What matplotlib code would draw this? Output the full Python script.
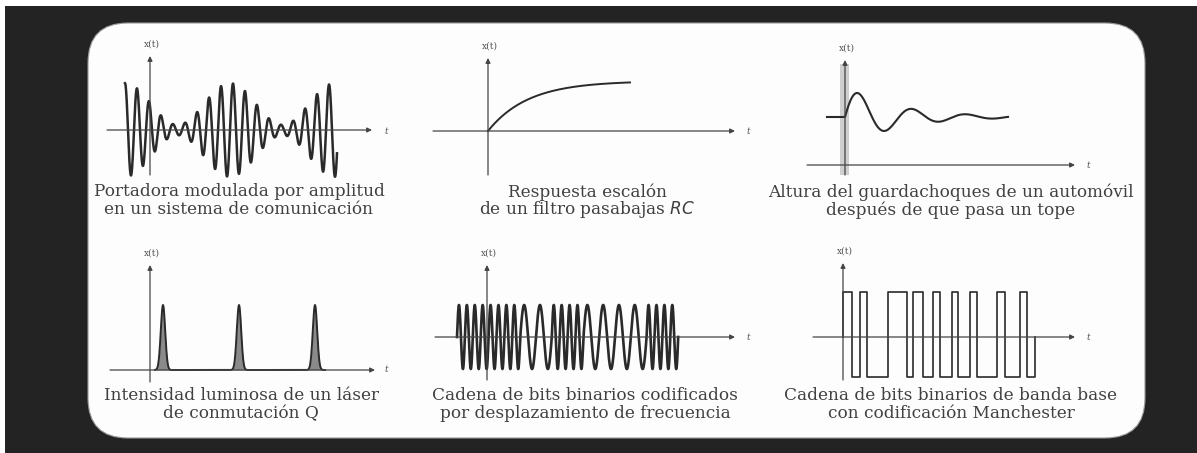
import numpy as np
import matplotlib
matplotlib.use("Agg")
import matplotlib.pyplot as plt
from matplotlib.patches import FancyBboxPatch, Rectangle

W, H = 1197, 453

# ---------------- data ----------------
# 1: amplitude-modulated carrier
am_t = (-25, 187)
am_carrier_period = 12.0
am_env_period = 105.0
am_mod_index = 0.8
am_scale = 26.0
# 2: RC low-pass step response
rc_final = 50.0
rc_tau = 40.0
rc_t_end = 142.0
# 3: car bumper height after a bump
bump_level = 48.0
bump_amp = 31.0
bump_tau = 50.0
bump_period = 54.0
bump_t = (-18, 163)
# 4: Q-switched laser pulses
laser_times = [13, 89, 165]
laser_height = 65.0
laser_sigma = 2.2
# 5: FSK binary stream
fsk_bits = [1, 1, 0, 1, 0, 0, 1]
fsk_t0 = -30.0
fsk_bit_dur = 31.6
fsk_cycles = {1: 4, 0: 2}
fsk_amp = 32.0
# 6: Manchester baseband stream (transition times and levels)
man_edges = [0, 9, 17, 24, 45, 64, 70, 80, 90, 97, 109, 115, 127, 134, 154, 162, 177, 184, 192]
man_levels = [1, -1, 1, -1, 1, -1, 1, -1, 1, -1, 1, -1, 1, -1, 1, -1, 1, -1]
man_high, man_low = 45.0, 40.0

captions = [
    ("Portadora modulada por amplitud", "en un sistema de comunicación"),
    ("Respuesta escalón", "de un filtro pasabajas $RC$"),
    ("Altura del guardachoques de un automóvil", "después de que pasa un tope"),
    ("Intensidad luminosa de un láser", "de conmutación Q"),
    ("Cadena de bits binarios codificados", "por desplazamiento de frecuencia"),
    ("Cadena de bits binarios de banda base", "con codificación Manchester"),
]
ylabels = ["x(t)", "x(t)", "x(t)", "x(t)", "x(t)", "x(t)"]

# ---------------- layout ----------------
DARK = "#232323"
INK = "#2a2a2a"
AXC = "#444444"
fig = plt.figure(figsize=(W / 100, H / 100), dpi=100)
fig.patch.set_facecolor(DARK)

bg = fig.add_axes([0, 0, 1, 1])
bg.set_xlim(0, W)
bg.set_ylim(H, 0)
bg.axis("off")
bg.add_patch(Rectangle((0, 0), W, 6, color="white", lw=0))
bg.add_patch(Rectangle((0, 0), 5, H, color="white", lw=0))
bg.add_patch(FancyBboxPatch((88, 23), 1057, 415,
                            boxstyle="round,pad=0,rounding_size=40",
                            fc="#fdfdfd", ec="#9a9a9a", lw=0.8))

# panel definitions: origin pixel, box pixel, x-axis extent, y-axis extent
panels = [
    dict(o=(150, 130), box=(95, 35, 400, 185), xa=(107, 372), ya=(175, 56), cap=239, cy=(192, 209), tl=(386, 131)),
    dict(o=(488, 131), box=(425, 35, 760, 185), xa=(433, 735), ya=(175, 58), cap=587, cy=(192, 210), tl=(748, 131)),
    dict(o=(845, 165), box=(795, 35, 1100, 185), xa=(807, 1075), ya=(175, 60), cap=951, cy=(192, 210), tl=(1088, 165)),
    dict(o=(150, 370), box=(95, 240, 400, 390), xa=(110, 375), ya=(382, 265), cap=241, cy=(396, 414), tl=(386, 370)),
    dict(o=(487, 337), box=(425, 240, 760, 390), xa=(435, 735), ya=(380, 265), cap=585, cy=(396, 414), tl=(748, 337)),
    dict(o=(843, 337), box=(795, 240, 1100, 390), xa=(813, 1075), ya=(380, 263), cap=951, cy=(396, 414), tl=(1088, 337)),
]


def make_ax(p):
    ox, oy = p["o"]
    x0, y0, x1, y1 = p["box"]
    ax = fig.add_axes([x0 / W, 1 - y1 / H, (x1 - x0) / W, (y1 - y0) / H])
    ax.set_xlim(x0 - ox, x1 - ox)
    ax.set_ylim(oy - y1, oy - y0)
    ax.axis("off")
    ax.patch.set_alpha(0)
    xa0, xa1 = p["xa"]
    ax.annotate("", xy=(xa1 - ox, 0), xytext=(xa0 - ox, 0),
                arrowprops=dict(arrowstyle="-|>", lw=0.9, color=AXC, mutation_scale=7,
                                shrinkA=0, shrinkB=0))
    ya0, ya1 = p["ya"]
    ax.annotate("", xy=(0, oy - ya1), xytext=(0, oy - ya0),
                arrowprops=dict(arrowstyle="-|>", lw=0.9, color=AXC, mutation_scale=7,
                                shrinkA=0, shrinkB=0))
    return ax


axes = [make_ax(p) for p in panels]

# 1: AM carrier
t = np.linspace(am_t[0], am_t[1], 4000)
env = 1 + am_mod_index * np.cos(2 * np.pi * (t - am_t[0]) / am_env_period)
axes[0].plot(t, am_scale * env * np.cos(2 * np.pi * (t - am_t[0]) / am_carrier_period),
             color=INK, lw=1.8)

# 2: RC step response
t = np.linspace(0, rc_t_end, 400)
axes[1].plot(t, rc_final * (1 - np.exp(-t / rc_tau)), color=INK, lw=1.4)

# 3: bumper
ox, oy = panels[2]["o"]
ya0, ya1 = panels[2]["ya"]
axes[2].add_patch(Rectangle((-5, oy - ya0), 9, ya0 - ya1 - 4, color="#cfcfcf", lw=0, zorder=0))
t = np.linspace(bump_t[0], bump_t[1], 800)
y = np.where(t < 0, bump_level,
             bump_level + bump_amp * np.exp(-np.clip(t, 0, None) / bump_tau)
             * np.sin(2 * np.pi * np.clip(t, 0, None) / bump_period))
axes[2].plot(t, y, color=INK, lw=1.5)

# 4: laser pulses
t = np.linspace(-40, 230, 3000)
y = np.zeros_like(t)
for tp in laser_times:
    y += laser_height * np.exp(-0.5 * ((t - tp) / laser_sigma) ** 2)
mask = (t > 5) & (t < 175)
for tp in laser_times:
    axes[3].fill_between(t, 0, laser_height * np.exp(-0.5 * ((t - tp) / laser_sigma) ** 2),
                         where=np.abs(t - tp) < 8, color="#8a8a8a", lw=0)
axes[3].plot(t[mask], y[mask], color=INK, lw=1.4)

# 5: FSK
ts, ys = [], []
phase = 0.0
for i, b in enumerate(fsk_bits):
    tt = np.linspace(fsk_t0 + i * fsk_bit_dur, fsk_t0 + (i + 1) * fsk_bit_dur, 400)
    f = fsk_cycles[b] / fsk_bit_dur
    ys.append(fsk_amp * np.sin(phase + 2 * np.pi * f * (tt - tt[0])))
    ts.append(tt)
    phase += 2 * np.pi * fsk_cycles[b]
axes[4].plot(np.concatenate(ts), np.concatenate(ys), color=INK, lw=1.9)

# 6: Manchester
xs, ys = [], []
for i, lv in enumerate(man_levels):
    val = man_high if lv > 0 else -man_low
    xs += [man_edges[i], man_edges[i + 1]]
    ys += [val, val]
xs = [man_edges[0]] + xs + [man_edges[-1]]
ys = [0] + ys + [0]
axes[5].plot(xs, ys, color=INK, lw=1.2)

# labels
for p, cap, yl in zip(panels, captions, ylabels):
    ox, oy = p["o"]
    bg.text(ox + 2, p["ya"][1] - 12, yl, fontsize=6.5, family="DejaVu Serif",
            color="#555555", ha="center", va="center")
    bg.text(p["tl"][0], p["tl"][1], "t", fontsize=6.5, family="DejaVu Serif",
            style="italic", color="#555555", ha="center", va="center")
    for line, yy in zip(cap, p["cy"]):
        bg.text(p["cap"], yy, line, fontsize=12.2, family="DejaVu Serif",
                color="#404040", ha="center", va="center")

fig.savefig("out.png", dpi=100, facecolor=fig.get_facecolor())
